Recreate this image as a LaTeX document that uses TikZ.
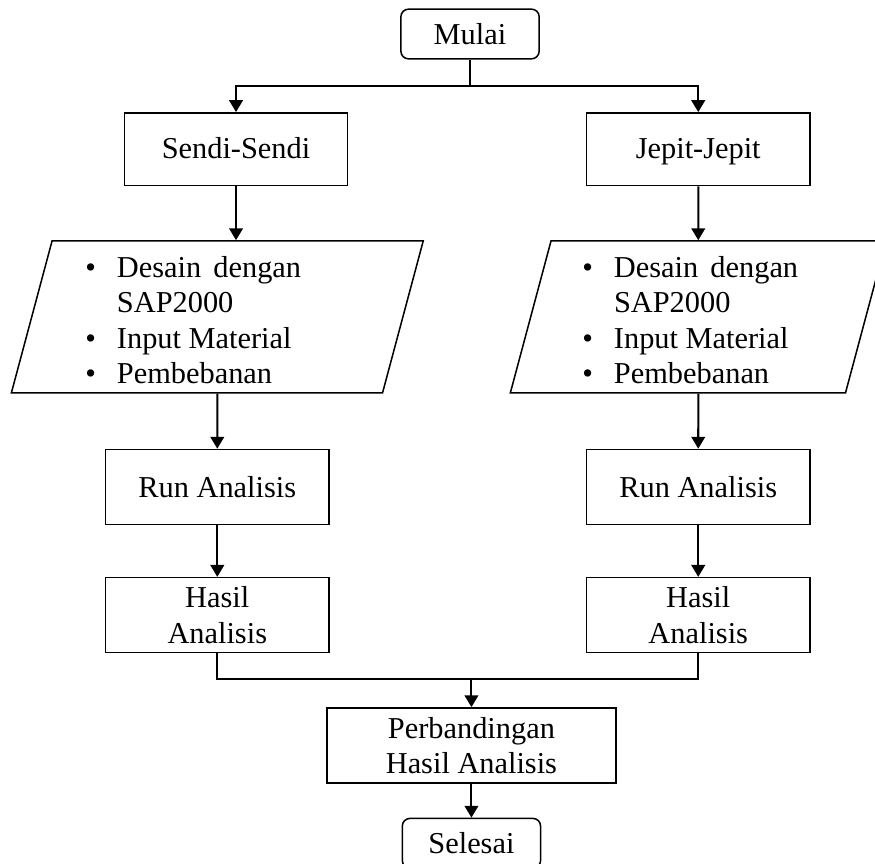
\documentclass[tikz,border=0pt]{standalone}
\usepackage{fontspec}
\setmainfont{Liberation Serif}
\usepackage{tikz}
\usetikzlibrary{shapes.geometric, arrows.meta, positioning}

\newcommand{\daftarlangkah}[1]{%
\raisebox{-2.6pt}[\height][\depth]{\begin{tabular}{@{}c@{\hspace{8.3pt}}l@{\hspace{#1}}}
\textbullet & Desain\hspace{0.4em}dengan\\
 & SAP2000\\
\textbullet & Input Material\\
\textbullet & Pembebanan
\end{tabular}}}

\begin{document}
\begin{tikzpicture}[
    node distance=1.6cm,
    font=\fontsize{12}{14}\selectfont,
    terminal/.style={rectangle, rounded corners=3pt, minimum width=1.92cm, minimum height=0.69cm, text centered, draw=black, line width=0.6pt},
    proses/.style={rectangle, minimum width=3.1cm, minimum height=1.04cm, text centered, align=center, draw=black, line width=0.6pt},
    cabangbox/.style={proses, minimum height=1.01cm, text height=0.7em, text depth=0pt},
    masukan/.style={trapezium, trapezium left angle=75, trapezium right angle=105, trapezium stretches body=true, minimum height=2.11cm, inner sep=2pt, draw=black, line width=0.6pt},
    arrow/.style={line width=0.8pt, -{Triangle[length=4.7pt, width=5.4pt]}},
    garis/.style={line width=0.8pt}
]
\useasboundingbox (-6.528,0.472) rectangle (5.625,-11.515);
\node (mulai) [terminal] {Mulai};
\node (sendi) [cabangbox, below of=mulai, xshift=-3.25cm] {Sendi-Sendi};
\node (jepit) [cabangbox, below of=mulai, xshift=3.17cm] {Jepit-Jepit};
\node (input1) [masukan, minimum width=5.72cm, below of=sendi, yshift=-0.73cm, xshift=-0.26cm] {\daftarlangkah{19pt}};
\node (input2) [masukan, minimum width=5.22cm, below of=jepit, yshift=-0.73cm] {\daftarlangkah{6.3pt}};
\node (run1) [proses, below of=input1, yshift=-0.76cm] {Run Analisis};
\node (run2) [proses, below of=input2, yshift=-0.76cm] {Run Analisis};
\node (hasil1) [proses, below of=run1, yshift=-0.18cm] {Hasil\\Analisis};
\node (hasil2) [proses, below of=run2, yshift=-0.18cm] {Hasil\\Analisis};
\node (banding) [proses, minimum width=4.01cm, below of=hasil1, yshift=-0.21cm, xshift=3.53cm] {Perbandingan\\Hasil Analisis};
\node (selesai) [terminal, below of=banding, yshift=0.24cm] {Selesai};
\draw [garis] (mulai) -- ++(0,-0.72) coordinate (cabang);
\draw [arrow] (cabang) -| (sendi);
\draw [arrow] (cabang) -| (jepit);
\draw [arrow] (sendi) -- (sendi |- input1.north);
\draw [arrow] (jepit) -- (input2);
\draw [arrow] (input1) -- (run1);
\draw [arrow] (input2) -- (run2);
\draw [arrow] (run1) -- (hasil1);
\draw [arrow] (run2) -- (hasil2);
\path (banding.north) ++(0,0.39) coordinate (gabung);
\draw [garis] (hasil1) |- (gabung) -| (hasil2);
\draw [arrow] (gabung) -- (banding);
\draw [arrow] (banding) -- (selesai);
\end{tikzpicture}
\end{document}
